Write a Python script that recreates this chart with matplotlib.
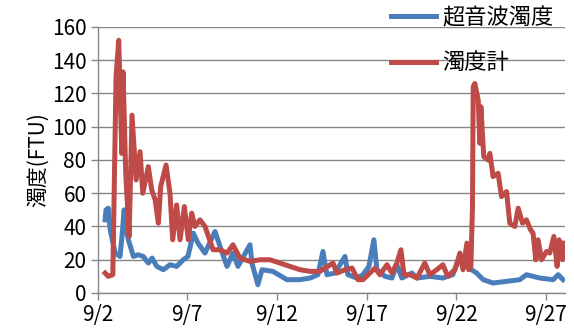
import matplotlib.pyplot as plt

plt.rcParams['font.family'] = ['Noto Sans CJK JP', 'DejaVu Sans']

# day of September (fractional) and turbidity readings
sonic_day = [2.42, 2.47, 2.60, 2.70, 2.98, 3.25, 3.37, 3.48, 3.59, 3.72, 4.00, 4.26,
             4.55, 4.83, 5.04, 5.30, 5.67, 6.04, 6.41, 6.78, 7.04, 7.34, 7.60, 7.99,
             8.55, 8.83, 9.22, 9.55, 9.83, 10.50, 10.61, 10.94, 11.17, 11.78, 12.56,
             13.29, 13.85, 14.29, 14.57, 14.79, 15.24, 15.80, 15.96, 16.46, 16.80,
             17.13, 17.41, 17.58, 18.03, 18.42, 18.69, 18.97, 19.53, 19.81, 20.53,
             21.26, 21.81, 22.21, 22.38, 22.58, 23.14,
             23.51, 24.06, 24.81, 25.55, 25.92, 26.66, 27.41, 27.69, 27.96]
sonic_ftu = [44, 50, 51, 38, 24, 22, 35, 50, 38, 32, 22, 23,
             22, 18, 21, 16, 14, 17, 16, 20, 22, 36, 30, 24,
             37, 28, 16, 24, 16, 29, 18, 5, 14, 13, 8,
             8, 9, 11, 25, 11, 12, 22, 11, 9, 11,
             16, 32, 14, 10, 9, 17, 9, 12, 9, 10,
             9, 11, 22, 16, 16, 12,
             8, 6, 7, 8, 11, 9, 8, 11, 8]

meter_day = [2.42, 2.59, 2.85, 3.03, 3.18, 3.35, 3.42, 3.57, 3.76, 3.92, 4.15, 4.37,
             4.52, 4.83, 5.02, 5.21, 5.39, 5.52, 5.82, 6.04, 6.19, 6.41, 6.60, 6.84,
             7.06, 7.25, 7.43, 7.71, 7.99, 8.44, 8.83, 9.22, 9.55, 9.94, 10.50, 11.06,
             11.62, 12.17, 12.73, 13.29, 13.85, 14.40, 15.13, 15.35, 15.80, 16.19,
             16.52, 16.80, 17.19, 17.47, 17.75, 18.14, 18.42, 18.69, 18.92, 19.09,
             19.42, 19.81, 20.25, 20.53, 20.92, 21.26, 21.53, 21.93, 22.21, 22.38,
             22.60, 22.70, 22.82, 22.91, 22.95, 23.04, 23.23, 23.32, 23.38, 23.54,
             23.78, 23.88, 24.06, 24.34, 24.53, 24.81, 24.99, 25.27, 25.46, 25.70,
             25.92, 26.15, 26.29, 26.44, 26.57, 26.76, 27.04, 27.22, 27.45, 27.63,
             27.74, 27.93, 28.00]
meter_ftu = [12, 10, 11, 130, 152, 84, 133, 72, 34, 107, 68, 85,
             60, 76, 62, 56, 42, 64, 77, 60, 32, 53, 32, 52,
             32, 48, 40, 44, 40, 26, 26, 24, 29, 21, 19, 20,
             20, 18, 16, 14, 13, 13, 18, 12, 14, 15,
             8, 8, 12, 15, 11, 17, 12, 18, 26, 11,
             11, 9, 18, 11, 14, 17, 10, 14, 24, 14,
             30, 14, 16, 52, 124, 126, 116, 90, 112, 82,
             80, 84, 70, 72, 58, 61, 42, 40, 51, 42,
             44, 38, 36, 20, 32, 20, 25, 24, 34, 16,
             32, 20, 30]

tick_days = [2, 7, 12, 17, 22, 27]
tick_labels = ['9/2', '9/7', '9/12', '9/17', '9/22', '9/27']

grey = '#868686'

fig = plt.figure(figsize=(5.74, 3.32), dpi=100)
ax = fig.add_axes([0.170, 0.1175, 0.814, 0.8012])

ax.plot(sonic_day, sonic_ftu, color='#4A7EBB', lw=3.6, solid_joinstyle='round',
        label='超音波濁度', zorder=3)
ax.plot(meter_day, meter_ftu, color='#BE4B48', lw=3.6, solid_joinstyle='round',
        label='濁度計', zorder=4)

ax.set_xlim(2, 28.06)
ax.set_ylim(0, 160)
ax.set_yticks(range(0, 161, 20))
ax.set_xticks(tick_days)
ax.set_xticklabels(tick_labels)
ax.grid(axis='y', color=grey, lw=1)
ax.set_axisbelow(True)

for side in ['top', 'right']:
    ax.spines[side].set_visible(False)
for side in ['left', 'bottom']:
    ax.spines[side].set_color(grey)
    ax.spines[side].set_linewidth(1)
ax.tick_params(color=grey, length=5, width=1, labelsize=15, pad=3)
ax.set_ylabel('濁度(FTU)', fontsize=15, labelpad=2)

ax.legend(loc='upper right', bbox_to_anchor=(1.0, 1.12), frameon=False,
          fontsize=16, handlelength=2.0, handletextpad=0.3, labelspacing=1.0,
          borderaxespad=0.1)

fig.savefig('out.png', dpi=100)
